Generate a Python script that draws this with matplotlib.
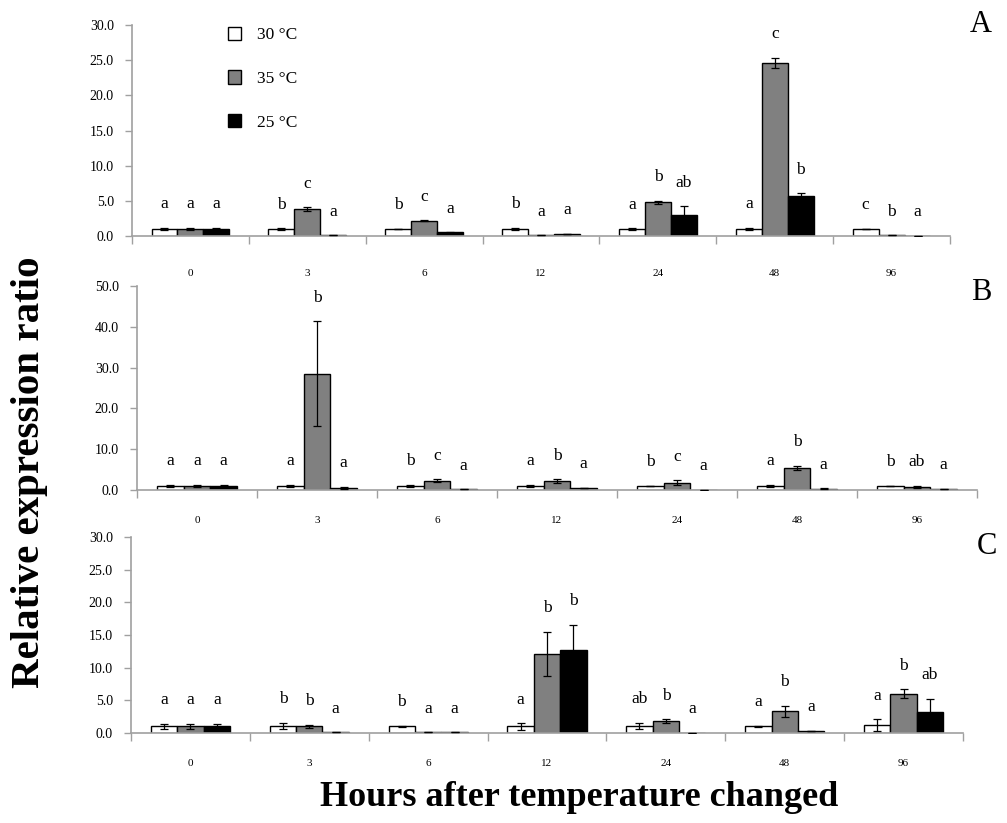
import matplotlib
matplotlib.use("Agg")
import matplotlib.pyplot as plt
from matplotlib.patches import Patch
import numpy as np

plt.rcParams['font.family'] = ['Liberation Serif', 'DejaVu Serif']

hours = ["0", "3", "6", "12", "24", "48", "96"]
series_names = ["30 \u00b0C", "35 \u00b0C", "25 \u00b0C"]

# Panel A
a_30 = [1.0, 1.0, 1.0, 1.0, 1.0, 1.0, 1.0]
a_35 = [1.0, 3.8, 2.2, 0.1, 4.8, 24.6, 0.1]
a_25 = [1.0, 0.1, 0.5, 0.3, 3.0, 5.7, 0.05]
a_30_err = [0.2, 0.1, 0.05, 0.15, 0.1, 0.2, 0.0]
a_35_err = [0.2, 0.3, 0.05, 0.0, 0.2, 0.7, 0.0]
a_25_err = [0.2, 0.0, 0.05, 0.05, 1.2, 0.35, 0.0]
a_letters_30 = ["a", "b", "b", "b", "a", "a", "c"]
a_letters_35 = ["a", "c", "c", "a", "b", "c", "b"]
a_letters_25 = ["a", "a", "a", "a", "ab", "b", "a"]

# Panel B
b_30 = [1.0, 1.0, 1.0, 1.0, 1.0, 1.0, 1.0]
b_35 = [1.0, 28.5, 2.3, 2.2, 1.8, 5.4, 0.8]
b_25 = [1.0, 0.5, 0.2, 0.5, 0.1, 0.3, 0.3]
b_30_err = [0.2, 0.2, 0.2, 0.2, 0.1, 0.2, 0.1]
b_35_err = [0.2, 12.8, 0.3, 0.4, 0.6, 0.5, 0.2]
b_25_err = [0.2, 0.3, 0.0, 0.1, 0.0, 0.1, 0.0]
b_letters_30 = ["a", "a", "b", "a", "b", "a", "b"]
b_letters_35 = ["a", "b", "c", "b", "c", "b", "ab"]
b_letters_25 = ["a", "a", "a", "a", "a", "a", "a"]

# Panel C
c_30 = [1.0, 1.1, 1.0, 1.0, 1.1, 1.0, 1.2]
c_35 = [1.0, 1.0, 0.1, 12.1, 1.8, 3.3, 6.0]
c_25 = [1.0, 0.1, 0.1, 12.7, 0.05, 0.3, 3.2]
c_30_err = [0.4, 0.5, 0.1, 0.5, 0.5, 0.1, 0.9]
c_35_err = [0.4, 0.3, 0.0, 3.4, 0.3, 0.9, 0.7]
c_25_err = [0.4, 0.0, 0.0, 3.9, 0.0, 0.0, 2.0]
c_letters_30 = ["a", "b", "b", "a", "ab", "a", "a"]
c_letters_35 = ["a", "b", "a", "b", "b", "b", "b"]
c_letters_25 = ["a", "a", "a", "b", "a", "a", "ab"]

W, H = 1007, 823
fig = plt.figure(figsize=(W / 100, H / 100), dpi=100)

def frame(l, r, b, t):
    return [l / W, 1 - b / H, (r - l) / W, (b - t) / H]

panels = [
    dict(rect=frame(132, 950, 236, 25), ymax=30, step=5, label="A", lpos=(981, 25),
         vals=[a_30, a_35, a_25], errs=[a_30_err, a_35_err, a_25_err],
         letters=[a_letters_30, a_letters_35, a_letters_25], pad=24),
    dict(rect=frame(137, 977, 490, 286), ymax=50, step=10, label="B", lpos=(981, 293),
         vals=[b_30, b_35, b_25], errs=[b_30_err, b_35_err, b_25_err],
         letters=[b_letters_30, b_letters_35, b_letters_25], pad=19),
    dict(rect=frame(131, 963, 733, 537), ymax=30, step=5, label="C", lpos=(987, 547),
         vals=[c_30, c_35, c_25], errs=[c_30_err, c_35_err, c_25_err],
         letters=[c_letters_30, c_letters_35, c_letters_25], pad=19),
]

colors = ["white", "#808080", "black"]
bw = 0.222
offsets = [-bw, 0, bw]
n = len(hours)
x = np.arange(n) + 0.5
spine_col = "#a0a0a0"

for p in panels:
    ax = fig.add_axes(p["rect"])
    for k in range(3):
        ax.bar(x + offsets[k], p["vals"][k], width=bw, color=colors[k],
               edgecolor="black", linewidth=1.0, zorder=2)
        ax.errorbar(x + offsets[k], p["vals"][k], yerr=p["errs"][k], fmt="none",
                    ecolor="black", elinewidth=0.9, capsize=3, capthick=0.9, zorder=3)
        for i in range(n):
            top = p["vals"][k][i] + p["errs"][k][i]
            ax.annotate(p["letters"][k][i], (x[i] + offsets[k], top),
                        xytext=(0, 17), textcoords="offset points",
                        ha="center", va="center", fontsize=12.5)
    ax.set_xlim(0, n)
    ax.set_ylim(0, p["ymax"])
    yt = np.arange(0, p["ymax"] + 0.1, p["step"])
    ax.set_yticks(yt)
    ax.set_yticklabels([f"{v:.1f}" for v in yt], fontsize=10)
    ax.set_xticks(np.arange(n + 1))
    ax.set_xticklabels([])
    ax.set_xticks(x, minor=True)
    ax.set_xticklabels(hours, minor=True, fontsize=8)
    ax.tick_params(axis="x", which="major", direction="out", length=6,
                   color=spine_col, width=1)
    ax.tick_params(axis="x", which="minor", length=0, pad=p["pad"])
    ax.tick_params(axis="y", direction="out", length=5, color=spine_col,
                   width=1, pad=8)
    for s in ["top", "right"]:
        ax.spines[s].set_visible(False)
    for s in ["left", "bottom"]:
        ax.spines[s].set_color(spine_col)
        ax.spines[s].set_linewidth(1.2)
    fig.text(p["lpos"][0] / W, 1 - p["lpos"][1] / H, p["label"],
             fontsize=22, ha="center", va="center")
    if p["label"] == "A":
        handles = [Patch(facecolor=c, edgecolor="black", linewidth=1.0) for c in colors]
        ax.legend(handles, series_names, loc="upper left",
                  bbox_to_anchor=(219 / W, 1 - 18 / H), bbox_transform=fig.transFigure,
                  frameon=False, fontsize=12.5, handlelength=0.75, handleheight=0.8,
                  labelspacing=1.55, handletextpad=0.95, borderpad=0)

fig.text(30 / W, 1 - 472 / H, "Relative expression ratio", rotation=90,
         fontsize=29.5, fontweight="bold", ha="center", va="center")
fig.text(579 / W, 1 - 797 / H, "Hours after temperature changed",
         fontsize=26, fontweight="bold", ha="center", va="center")

fig.savefig("out.png", dpi=100)
